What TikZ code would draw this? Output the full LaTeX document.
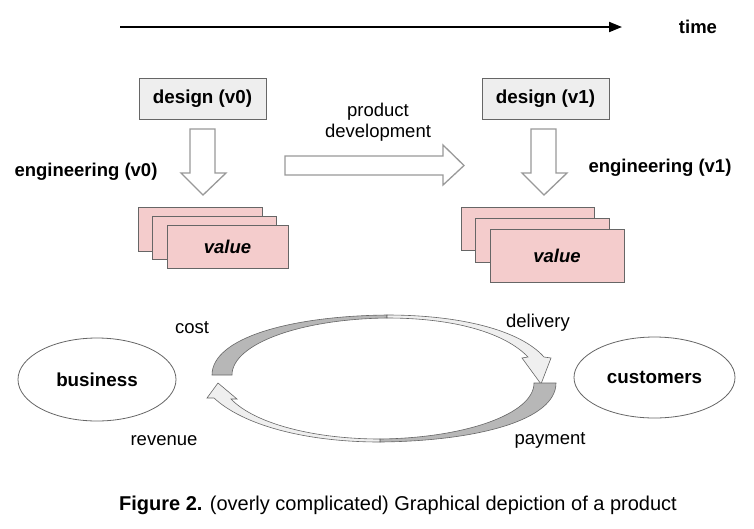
\documentclass[tikz,border=0pt]{standalone}
\usepackage{fontspec}
\setmainfont{Liberation Sans}
\usetikzlibrary{arrows.meta,shapes.geometric}
\definecolor{boxgray}{HTML}{EEEEEE}
\definecolor{edgegray}{HTML}{666666}
\definecolor{arrowgray}{HTML}{999999}
\definecolor{pinkv}{HTML}{F4CCCC}
\definecolor{darkband}{HTML}{B7B7B7}
\definecolor{lightband}{HTML}{EFEFEF}
\begin{document}
\begin{tikzpicture}[x=1pt,y=-1pt,
  lbl/.style={font=\fontsize{18.5}{22}\selectfont, inner sep=0pt},
  blbl/.style={font=\fontsize{18.5}{22}\selectfont\bfseries, inner sep=0pt},
  designbox/.style={draw=edgegray, fill=boxgray, line width=0.8pt, minimum width=127pt, minimum height=41pt, font=\fontsize{18.8}{22}\selectfont\bfseries, inner sep=0pt},
  valbox/.style={draw=edgegray, fill=pinkv, line width=0.8pt, inner sep=0pt},
  blockarrow/.style={draw=arrowgray, fill=white, line width=1.3pt, line join=miter},
  band/.style={draw=edgegray, line width=0.6pt, line join=miter},
  ell/.style={draw=edgegray, line width=0.8pt, ellipse, minimum width=158pt, minimum height=83pt, font=\fontsize{18.8}{22}\selectfont\bfseries},
]
\useasboundingbox (0,0) rectangle (754,528);
\fill[white] (0,0) rectangle (754,528);

% time axis
\coordinate (t0) at (120,27);
\coordinate (t1) at (622,27);
\draw[line width=2pt, -{Triangle[length=13pt,width=10pt]}] (t0) -- (t1);
\node[blbl] (time) at (698,27) {time};

% design boxes
\node[designbox] (d0) at (202.5,98.5) {design (v0)};
\node[designbox] (d1) at (545.5,98.5) {design (v1)};

% engineering block arrows
\draw[blockarrow] (190,129) -- (215,129) -- (215,173) -- (226,173) -- (203,195) -- (181,173) -- (190,173) -- cycle;
\draw[blockarrow] (531,129) -- (556,129) -- (556,173) -- (567,173) -- (544,195) -- (522,173) -- (531,173) -- cycle;
\node[blbl] (e0) at (86,172) {engineering (v0)};
\node[blbl] (e1) at (660,168) {engineering (v1)};

% product development arrow
\draw[blockarrow] (285,156) -- (443,156) -- (443,145) -- (464,165.5) -- (443,185) -- (443,175) -- (285,175) -- cycle;
\node[lbl, align=center] (pd) at (378,122) {product\\[-1pt]development};

% value stacks v0
\node[valbox, minimum width=124pt, minimum height=44pt] (va1) at (200,229) {};
\node[valbox, minimum width=124pt, minimum height=43pt] (va2) at (214,237.5) {};
\node[valbox, minimum width=121pt, minimum height=43pt, font=\fontsize{18.5}{22}\selectfont\bfseries\itshape] (va3) at (227.5,246.5) {value};
% value stacks v1
\node[valbox, minimum width=133pt, minimum height=43pt] (vb1) at (527.5,228.5) {};
\node[valbox, minimum width=134pt, minimum height=44pt] (vb2) at (542,240) {};
\node[valbox, minimum width=134pt, minimum height=53pt, font=\fontsize{18.5}{22}\selectfont\bfseries\itshape] (vb3) at (557,255.5) {value};

% ellipses
\node[ell] (bus) at (97,379.5) {business};
\node[ell, minimum width=161pt, minimum height=81pt] (cus) at (654.5,377.5) {customers};

% top curved arrow (cost -> delivery)
\draw[band, fill=darkband] (212,375) .. controls (212,338) and (290,316) .. (387,315)
  -- (387,318) .. controls (300,319) and (232,344) .. (232,375) -- cycle;
\draw[band, fill=lightband] (387,315) .. controls (460,315) and (520,330) .. (544,357)
  -- (551,358) -- (541,384) -- (522,358) -- (528,357)
  .. controls (505,333) and (455,318) .. (387,318) -- cycle;

% bottom curved arrow (payment -> revenue)
\draw[band, fill=darkband] (556,383) .. controls (556,420) and (478,441) .. (380,442)
  -- (380,439) .. controls (465,438) and (534,414) .. (534,383) -- cycle;
\draw[band, fill=lightband] (380,442) .. controls (305,442) and (243,425) .. (214,398)
  -- (207,398) -- (218,383) -- (237,399) -- (231,399)
  .. controls (255,424) and (315,439) .. (380,439) -- cycle;

% flow labels
\node[lbl] (cost) at (192,328) {cost};
\node[lbl] (deliv) at (538,323) {delivery};
\node[lbl] (rev) at (164,441) {revenue};
\node[lbl] (pay) at (550,440) {payment};

% caption
\node[font=\fontsize{20}{24}\selectfont, inner sep=0pt] (cap) at (398,505) {\textbf{Figure 2.} (overly complicated) Graphical depiction of a product};
\end{tikzpicture}
\end{document}
